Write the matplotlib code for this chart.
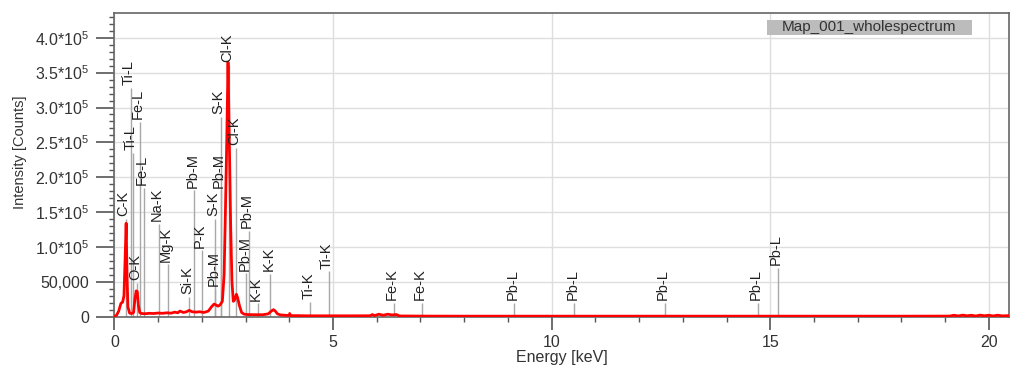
"""EDS spectrum (Map_001_wholespectrum) with element line markers."""

import matplotlib
matplotlib.use("Agg")
import matplotlib.pyplot as plt
from matplotlib.patches import Rectangle
from matplotlib.ticker import MultipleLocator, FuncFormatter

plt.rcParams['font.family'] = ['Liberation Sans', 'DejaVu Sans']
plt.rcParams['mathtext.fontset'] = 'custom'
plt.rcParams['mathtext.rm'] = 'Liberation Sans'
plt.rcParams['mathtext.default'] = 'regular'

# spectrum: energy [keV] and intensity [counts]
energy = [0.00, 0.05, 0.10, 0.15, 0.19, 0.22, 0.245, 0.27, 0.29, 0.31, 0.35,
          0.40, 0.44, 0.47, 0.50, 0.525, 0.55, 0.58, 0.62, 0.70, 0.80, 0.90,
          1.00, 1.10, 1.20, 1.30, 1.38, 1.45, 1.50, 1.58, 1.65, 1.71, 1.78,
          1.87, 1.95, 2.05, 2.15, 2.22, 2.28, 2.32, 2.37, 2.42, 2.47, 2.51,
          2.54, 2.57, 2.60, 2.63, 2.66, 2.69, 2.72, 2.75, 2.79, 2.82, 2.86,
          2.91, 2.97, 3.05, 3.20, 3.40, 3.52, 3.59, 3.64, 3.68, 3.73, 3.80,
          3.95, 4.00, 4.01, 4.03, 4.50, 5.00, 5.50, 5.85, 5.90, 5.95, 6.05,
          6.15, 6.25, 6.35, 6.45, 6.52, 7.00, 8.00, 10.0, 12.0, 14.0, 16.0,
          18.0, 19.1, 19.2, 19.3, 19.4, 19.5, 19.6, 19.7, 19.8, 19.9, 20.0,
          20.1, 20.2, 20.3, 20.46]
counts = [0, 2000, 8000, 19000, 21000, 30000, 80000, 134000, 60000, 14000, 5000,
          4500, 6000, 25000, 37000, 36000, 16000, 6000, 4500, 4200, 4800, 4500,
          5200, 4800, 5500, 5000, 6500, 5500, 8000, 6000, 7000, 9000, 7000,
          6500, 7000, 6000, 8000, 14000, 18000, 17000, 15000, 17000, 22000, 60000,
          150000, 250000, 365000, 250000, 130000, 50000, 22000, 24000, 32000, 27000, 16000,
          6000, 3500, 3000, 2800, 2800, 4000, 8000, 10000, 8000, 4000, 2500,
          1800, 2000, 4500, 1500, 1200, 1200, 1200, 1300, 3000, 1500, 3500,
          2000, 3500, 2500, 3000, 1000, 800, 700, 700, 700, 700, 700,
          700, 800, 2000, 1000, 2200, 1200, 2000, 900, 2200, 1300, 2000,
          1000, 2100, 1100, 1500]

# element line markers
marker_labels = ['C-K', 'Ti-L', 'Ti-L', 'O-K', 'Fe-L', 'Fe-L', 'Na-K', 'Mg-K',
                 'Si-K', 'Pb-M', 'P-K', 'Pb-M', 'S-K', 'Pb-M', 'S-K', 'Cl-K',
                 'Cl-K', 'Pb-M', 'Pb-M', 'K-K', 'K-K', 'Ti-K', 'Ti-K', 'Fe-K',
                 'Fe-K', 'Pb-L', 'Pb-L', 'Pb-L', 'Pb-L', 'Pb-L']
marker_energy = [0.26, 0.37, 0.43, 0.525, 0.59, 0.67, 1.01, 1.23,
                 1.71, 1.83, 2.00, 2.31, 2.31, 2.43, 2.43, 2.62,
                 2.79, 3.02, 3.08, 3.29, 3.57, 4.48, 4.90, 6.39,
                 7.04, 9.15, 10.52, 12.60, 14.72, 15.17]
marker_height = [140000, 328000, 235000, 48000, 279000, 185000, 133000, 75000,
                 28000, 181000, 95000, 40000, 140000, 181000, 286000, 361000,
                 242000, 62000, 123000, 19000, 61000, 21000, 65000, 20000,
                 20000, 20000, 20000, 20000, 20000, 70000]

fig = plt.figure(figsize=(10.32, 3.8), dpi=100)
ax = fig.add_axes([0.1108, 0.1667, 0.8669, 0.7999])

ax.grid(True, color='#dedede', linewidth=1.0)
ax.set_axisbelow(True)

# marker lines and labels
ax.vlines(marker_energy, 0, marker_height, color='#a8a8a8', linewidth=1.0, zorder=2)
for lab, e, h in zip(marker_labels, marker_energy, marker_height):
    ax.annotate(lab, (e, h), xytext=(-1.5, 2), textcoords='offset points',
                rotation=90, ha='center', va='bottom', fontsize=10.5,
                color='#222222', zorder=4)

ax.plot(energy, counts, color='#ff0000', linewidth=2.0, zorder=3)

ax.set_xlim(0, 20.46)
ax.set_ylim(0, 436000)
ax.xaxis.set_major_locator(MultipleLocator(5))
ax.xaxis.set_minor_locator(MultipleLocator(1))
ax.yaxis.set_major_locator(MultipleLocator(50000))
ax.yaxis.set_minor_locator(MultipleLocator(10000))


def yfmt(v, pos):
    if v == 0:
        return '0'
    if v == 50000:
        return '50,000'
    return f'{v / 1e5:.1f}*10$^5$'


ax.yaxis.set_major_formatter(FuncFormatter(yfmt))
ax.xaxis.set_major_formatter(FuncFormatter(lambda v, p: f'{v:g}'))

ax.tick_params(axis='y', which='major', length=13, width=1.2, color='#555555',
               labelsize=11.5, labelcolor='#333333', pad=5)
ax.tick_params(axis='y', which='minor', length=3.6, width=1.0, color='#555555')
ax.tick_params(axis='x', which='major', length=9.5, width=1.2, color='#555555',
               labelsize=11.5, labelcolor='#333333', pad=4)
ax.tick_params(axis='x', which='minor', length=3.6, width=1.0, color='#555555')

for s in ax.spines.values():
    s.set_color('#666666')
    s.set_linewidth(1.2)

ax.set_xlabel('Energy [keV]', fontsize=11.5, color='#333333', labelpad=0)
fig.text(0.019, 0.60, 'Intensity [Counts]', rotation=90, ha='center',
         va='center', fontsize=10.5, color='#333333')

# spectrum name box
fig.add_artist(Rectangle((766.7 / 1032, 1 - 35 / 380), 205 / 1032, 15 / 380,
                         transform=fig.transFigure, facecolor='#bcbcbc',
                         edgecolor='none', zorder=5))
fig.text(869 / 1032, 1 - 27.5 / 380, 'Map_001_wholespectrum', ha='center',
         va='center', fontsize=11, color='#333333', zorder=6)

fig.savefig('out.png', dpi=100)
